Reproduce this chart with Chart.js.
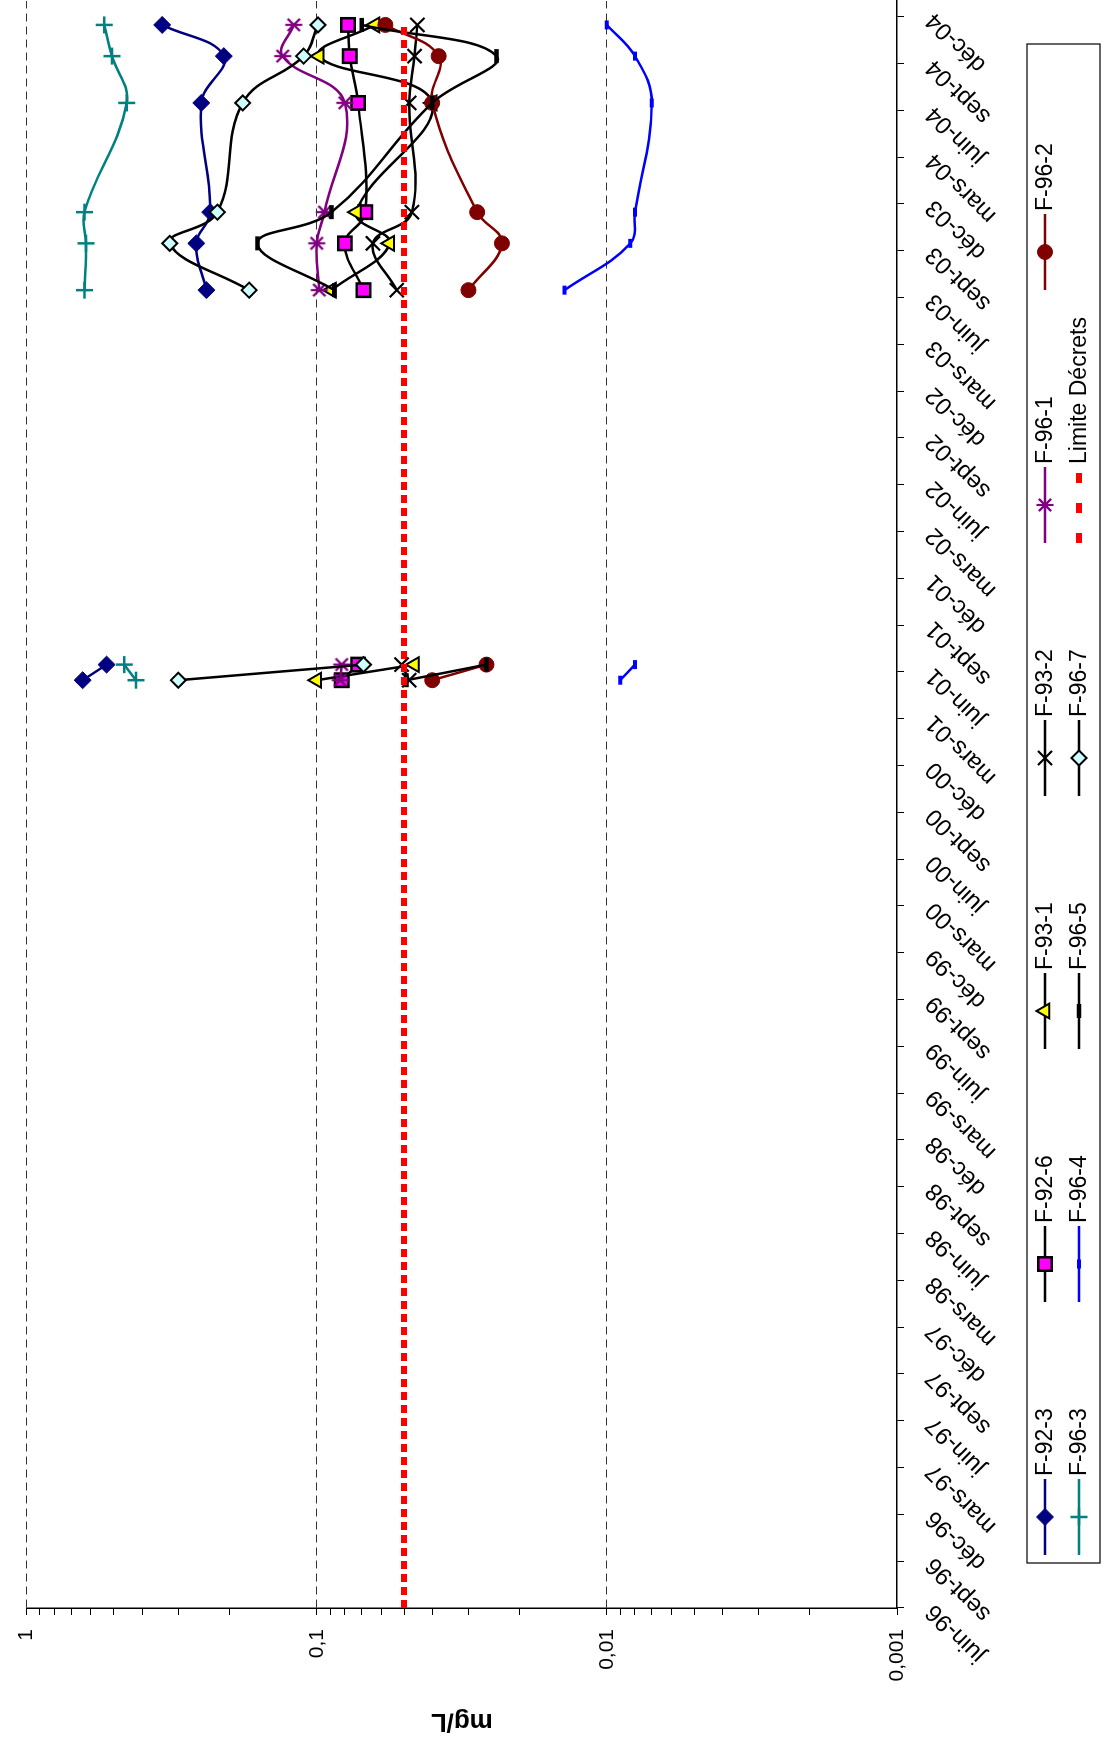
<!DOCTYPE html>
<html>
<head>
<meta charset="utf-8">
<title>mg/L</title>
<script src="https://cdn.jsdelivr.net/npm/chart.js@4/dist/chart.umd.min.js"></script>
<style>
  html, body { margin: 0; padding: 0; background: #fff; overflow: hidden; }
  /* the chart is drawn landscape, then turned a quarter turn to the left */
  #wrap { position: absolute; left: 0; top: 0; width: 1741px; height: 1107px;
          transform-origin: 0 0; transform: translate(0, 1741px) rotate(-90deg); }
</style>
</head>
<body>
<div id="wrap"><canvas id="chart" width="1741" height="1107"></canvas></div>
<script>
// sampling dates (the 2002 entry is empty, it breaks the lines)
const sampleDates = ['2001-05-15', '2001-06-15', '2002-06-15', '2003-06-15', '2003-09-15',
                     '2003-11-15', '2004-06-15', '2004-09-15', '2004-11-15'];

const f923 = [0.641, 0.530, null, 0.240, 0.260, 0.233, 0.250, 0.209, 0.341];
const f926 = [0.082, 0.072, null, 0.069, 0.080, 0.068, 0.072, 0.077, 0.078];
const f931 = [0.100, 0.046, null, 0.089, 0.056, 0.073, 0.040, 0.098, 0.063];
const f932 = [0.048, 0.051, null, 0.053, 0.064, 0.047, 0.048, 0.046, 0.045];
const f961 = [0.083, 0.082, null, 0.098, 0.100, 0.094, 0.080, 0.131, 0.120];
const f962 = [0.040, 0.026, null, 0.030, 0.023, 0.028, 0.040, 0.038, 0.058];
const f963 = [0.420, 0.461, null, 0.632, 0.624, 0.632, 0.452, 0.508, 0.540];
const f964 = [0.009, 0.008, null, 0.014, 0.0083, 0.008, 0.007, 0.008, 0.010];
const f965 = [0.049, 0.026, null, 0.087, 0.160, 0.089, 0.040, 0.024, 0.070];
const f967 = [0.300, 0.069, null, 0.171, 0.321, 0.220, 0.180, 0.111, 0.099];

const limitDates = ['1996-06-01', '2004-11-15'];
const limitValues = [0.05, 0.05];

const dateTicks = ['juin-96', 'sept-96', 'déc-96',
  'mars-97', 'juin-97', 'sept-97', 'déc-97', 'mars-98', 'juin-98', 'sept-98', 'déc-98',
  'mars-99', 'juin-99', 'sept-99', 'déc-99', 'mars-00', 'juin-00', 'sept-00', 'déc-00',
  'mars-01', 'juin-01', 'sept-01', 'déc-01', 'mars-02', 'juin-02', 'sept-02', 'déc-02',
  'mars-03', 'juin-03', 'sept-03', 'déc-03', 'mars-04', 'juin-04', 'sept-04', 'déc-04'];
const decadeTicks = [0.001, 0.01, 0.1, 1];
const decadeLabels = ['0,001', '0,01', '0,1', '1'];

const FONT = '"Liberation Sans", Arial, sans-serif';
Chart.defaults.font.family = FONT;
Chart.defaults.color = '#000';

// months counted from june 1996
function monthIndex(s) {
    const [y, m, d] = s.split('-').map(Number);
    return (y - 1996) * 12 + (m - 6) + (d - 1) / 30;
}
const points = (dates, vals) => dates.map((d, i) => ({ x: monthIndex(d), y: vals[i] }));

// excel style asterisk marker
function asterisk(color, r, w) {
    const c = document.createElement('canvas');
    const s = Math.ceil(2 * r + w + 2);
    c.width = c.height = s;
    const g = c.getContext('2d');
    const m = s / 2, k = r * 0.72;
    g.strokeStyle = color;
    g.lineWidth = w;
    g.beginPath();
    g.moveTo(m - k, m - k); g.lineTo(m + k, m + k);
    g.moveTo(m - k, m + k); g.lineTo(m + k, m - k);
    g.moveTo(m, m - r); g.lineTo(m, m + r);
    g.stroke();
    return c;
}

const series = [
    { label: 'F-92-3', values: f923, color: '#000080', marker: 'rectRot', r: 8.5, fill: '#000080', edge: '#000080', bw: 1 },
    { label: 'F-92-6', values: f926, color: '#000000', marker: 'rect', r: 9.5, fill: '#FF00FF', edge: '#000000', bw: 2.5 },
    { label: 'F-93-1', values: f931, color: '#000000', marker: 'triangle', r: 8.5, fill: '#FFFF00', edge: '#000000', bw: 2 },
    { label: 'F-93-2', values: f932, color: '#000000', marker: 'crossRot', r: 10, fill: '#000000', edge: '#000000', bw: 2.2 },
    { label: 'F-96-1', values: f961, color: '#800080', marker: asterisk('#800080', 8.5, 2.2), r: 8.5, fill: '#800080', edge: '#800080', bw: 2.2 },
    { label: 'F-96-2', values: f962, color: '#800000', marker: 'circle', r: 7.5, fill: '#800000', edge: '#800000', bw: 1 },
    { label: 'F-96-3', values: f963, color: '#008080', marker: 'cross', r: 8.5, fill: '#008080', edge: '#008080', bw: 2.5 },
    { label: 'F-96-4', values: f964, color: '#0000FF', marker: 'line', r: 4.5, fill: '#0000FF', edge: '#0000FF', bw: 4 },
    { label: 'F-96-5', values: f965, color: '#000000', marker: 'line', r: 7, fill: '#000000', edge: '#000000', bw: 4.5 },
    { label: 'F-96-7', values: f967, color: '#000000', marker: 'rectRot', r: 7.5, fill: '#CCFFFF', edge: '#000000', bw: 2 }
];

const datasets = series.map((s, i) => ({
    label: s.label,
    data: points(sampleDates, s.values),
    borderColor: s.color,
    backgroundColor: s.fill,
    borderWidth: 2.5,
    tension: 0.4,
    pointStyle: s.marker,
    pointRadius: s.r,
    pointBackgroundColor: s.fill,
    pointBorderColor: s.edge,
    pointBorderWidth: s.bw,
    order: series.length + 1 - i
}));
datasets.push({
    label: 'Limite Décrets',
    data: points(limitDates, limitValues),
    borderColor: '#FF0000',
    borderWidth: 6,
    borderDash: [8, 5],
    legendDash: [10, 20],
    pointRadius: 0,
    tension: 0,
    order: 0
});

const isDecade = v => decadeTicks.findIndex(d => Math.abs(d - v) / d < 1e-6);

// excel legend: framed box, line sample with marker, 6 columns
const boxLegend = {
    id: 'boxLegend',
    afterDraw(chart) {
        const ctx = chart.ctx;
        const box = { left: 178, top: 1027, right: 1697, bottom: 1100 };
        const col0 = 186, colStep = 253, rows = [1045, 1079], sample = 76;
        ctx.save();
        ctx.strokeStyle = '#000';
        ctx.lineWidth = 1.2;
        ctx.strokeRect(box.left, box.top, box.right - box.left, box.bottom - box.top);
        ctx.font = '23px ' + FONT;
        ctx.textBaseline = 'middle';
        ctx.fillStyle = '#000';
        chart.data.datasets.forEach((ds, i) => {
            const x = col0 + (i % 6) * colStep, y = rows[Math.floor(i / 6)];
            ctx.save();
            ctx.strokeStyle = ds.borderColor;
            ctx.lineWidth = ds.borderWidth;
            ctx.setLineDash(ds.legendDash || ds.borderDash || []);
            ctx.beginPath();
            ctx.moveTo(x, y); ctx.lineTo(x + sample, y);
            ctx.stroke();
            ctx.restore();
            if (ds.pointRadius) {
                ctx.save();
                ctx.fillStyle = ds.pointBackgroundColor;
                ctx.strokeStyle = ds.pointBorderColor;
                ctx.lineWidth = ds.pointBorderWidth;
                Chart.helpers.drawPoint(ctx, { pointStyle: ds.pointStyle, radius: ds.pointRadius, borderWidth: ds.pointBorderWidth, rotation: 0 }, x + sample / 2, y);
                ctx.restore();
            }
            ctx.fillText(ds.label, x + sample + 3, y + 1);
        });
        ctx.restore();
    }
};

new Chart(document.getElementById('chart'), {
    type: 'line',
    data: { datasets },
    plugins: [boxLegend],
    options: {
        responsive: false,
        animation: false,
        layout: { autoPadding: false, padding: { left: 0, top: 22, right: 1, bottom: 0 } },
        plugins: { legend: { display: false }, tooltip: { enabled: false } },
        scales: {
            x: {
                type: 'linear',
                min: 0,
                max: 103,
                afterFit: s => { s.height = 210; s.paddingRight = 0; s.paddingLeft = 0; },
                afterBuildTicks: s => { s.ticks = dateTicks.map((_, i) => ({ value: i * 3 })); },
                ticks: {
                    autoSkip: false,
                    minRotation: 45,
                    maxRotation: 45,
                    padding: 16,
                    font: { size: 24 },
                    callback: v => dateTicks[Math.round(v / 3)]
                },
                grid: { drawOnChartArea: false, tickLength: 7, tickColor: '#000', color: '#000' },
                border: { color: '#000', width: 1.5 }
            },
            y: {
                type: 'logarithmic',
                min: 0.001,
                max: 1,
                afterFit: s => { s.width = 133; },
                afterBuildTicks: s => {
                    const t = [];
                    for (let e = -3; e <= 0; e++) {
                        for (let k = 1; k <= 9; k++) {
                            const v = +(k * Math.pow(10, e)).toPrecision(3);
                            if (v <= 1) t.push({ value: v });
                        }
                    }
                    s.ticks = t;
                },
                ticks: {
                    padding: 14,
                    font: { size: 21 },
                    callback: v => { const i = isDecade(v); return i >= 0 ? decadeLabels[i] : ''; }
                },
                grid: {
                    color: c => (c.tick && isDecade(c.tick.value) > 0) ? '#333' : 'rgba(0,0,0,0)',
                    lineWidth: 1,
                    tickLength: 7,
                    tickColor: '#000'
                },
                border: { color: '#000', width: 1.5, dash: [8, 5] },
                title: {
                    display: true,
                    text: 'mg/L',
                    font: { size: 26, weight: 'bold' },
                    padding: { top: 4, bottom: 0 }
                }
            }
        }
    }
});
</script>
</body>
</html>
